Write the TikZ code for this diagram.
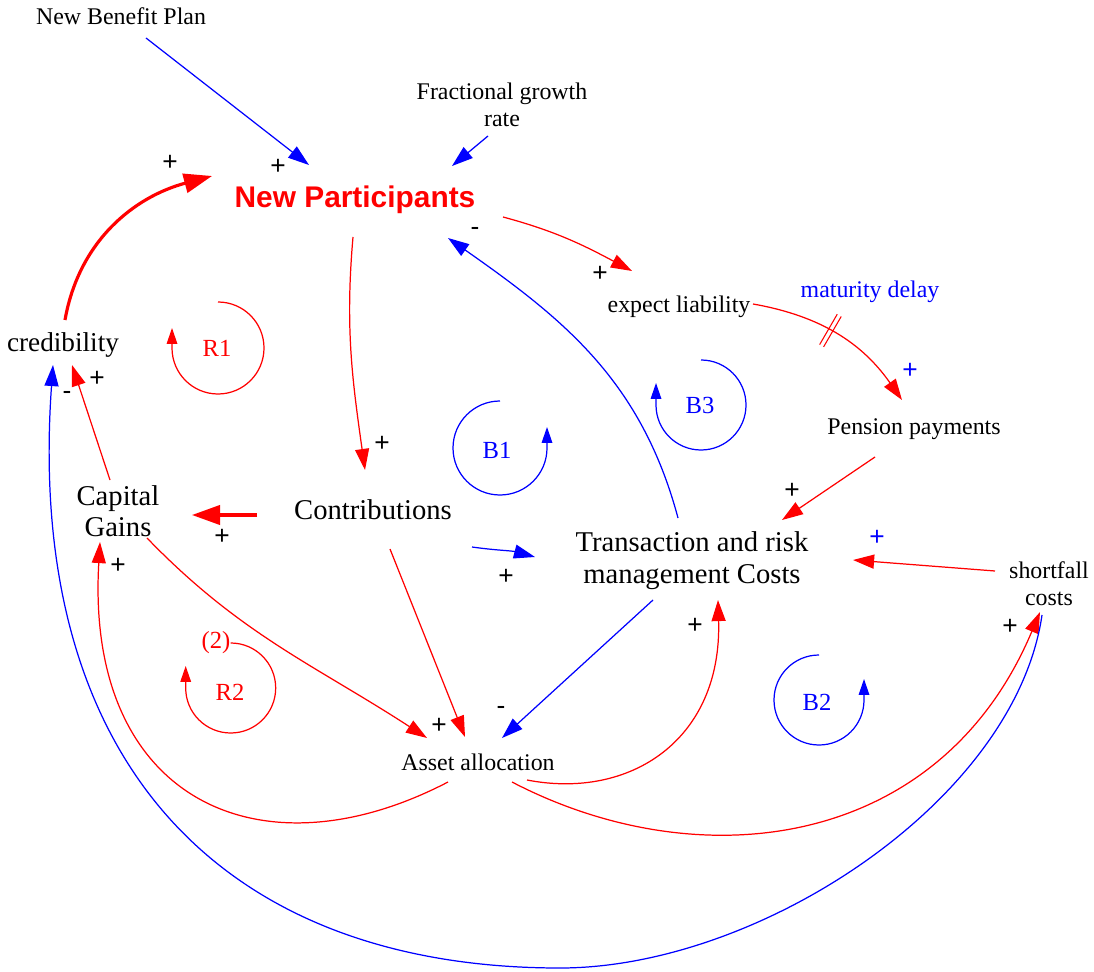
\documentclass[tikz,border=0pt]{standalone}
\usepackage{fontspec}
\setmainfont{Liberation Serif}
\newfontfamily\arialfont{Liberation Sans}
\usetikzlibrary{arrows.meta,calc,decorations.markings}

\begin{document}
\begin{tikzpicture}
      [x=0.02cm, y=0.02cm,
      var style/.style={inner sep=0pt, align=center, font=\fontsize{13.6}{15.3}\selectfont},
      big var style/.style={inner sep=0pt, align=center, font=\fontsize{16.3}{17.5}\selectfont},
      key var style/.style={inner sep=0pt, text=red, font=\arialfont\bfseries\fontsize{17}{19}\selectfont},
      sign style/.style={inner sep=0pt, font=\arialfont\fontsize{15}{16}\selectfont},
      loop label/.style={inner sep=0pt, font=\fontsize{14}{15}\selectfont},
      red edge/.style={draw=red, line width=0.7pt, -{Triangle[length=12pt,width=8pt]}},
      blue edge/.style={draw=blue, line width=0.7pt, -{Triangle[length=12pt,width=8pt]}},
      thick edge/.style={line width=1.8pt, -{Triangle[length=16pt,width=11pt]}},
      loop style/.style={line width=0.7pt, -{Triangle[length=9pt,width=6pt]}},
      delay mark/.style={postaction={decorate}, decoration={markings,
          mark=at position 0.45 with {\draw[-, red, line width=0.6pt] (-1.3pt,-10pt) -- (-1.3pt,10pt) (1.3pt,-10pt) -- (1.3pt,10pt);}}},
      ]
      \useasboundingbox (0,0) rectangle (1094,-972);

      % variables
      \node[var style] (nbp) at (121,-16) {New Benefit Plan};
      \node[var style] (fgr) at (502,-105) {Fractional growth\\rate};
      \node[key var style] (np) at (355,-200) {New Participants};
      \node[var style] (el) at (679,-307) {expect liability};
      \node[var style, text=blue] (md) at (870,-292) {maturity delay};
      \node[var style] (pp) at (914,-429) {Pension payments};
      \node[var style, font=\fontsize{15.5}{17}\selectfont] (cred) at (63,-345) {credibility};
      \node[big var style] (cg) at (118,-511) {Capital\\Gains};
      \node[big var style] (contr) at (373,-510) {Contributions};
      \node[big var style, font=\fontsize{16.3}{18.2}\selectfont] (trmc) at (692,-561) {Transaction and risk\\management Costs};
      \node[var style] (sc) at (1049,-584) {shortfall\\costs};
      \node[var style] (aa) at (478,-762) {Asset allocation};

      % links
      \draw[blue edge] ($(nbp)+(25,-22)$) -- ($(np)+(-46,35)$);
      \draw[blue edge] ($(fgr)+(-14,-31)$) -- ($(np)+(97,34)$);
      \draw[red edge, thick edge] ($(cred)+(2,25)$) to[out=80, in=195] ($(np)+(-143,24)$);
      \draw[red edge] ($(np)+(-2,-37)$) to[out=-95, in=98] ($(contr)+(-8,40)$);
      \draw[red edge] ($(np)+(148,-17)$) to[out=-15, in=152] ($(el)+(-47,36)$);
      \draw[blue edge] ($(trmc)+(-14,43)$) to[out=105, in=-35] ($(np)+(93,-38)$);
      \draw[red edge, delay mark] ($(el)+(74,3)$) to[out=-10, in=125] ($(pp)+(-12,29)$);
      \draw[red edge] ($(pp)+(-39,-28)$) -- ($(trmc)+(90,41)$);
      \draw[red edge] ($(sc)+(-54,13)$) -- ($(trmc)+(161,1)$);
      \draw[red edge, thick edge] ($(contr)+(-116,-5)$) -- ($(cg)+(74,-4)$);
      \draw[red edge] ($(cg)+(-8,31)$) -- ($(cred)+(9,-20)$);
      \draw[red edge] ($(cg)+(29,-27)$) to[out=-46, in=147] ($(aa)+(-51,24)$);
      \draw[red edge] ($(contr)+(17,-39)$) -- ($(aa)+(-13,25)$);
      \draw[blue edge] ($(contr)+(99,-37)$) to[out=-8, in=165] ($(trmc)+(-157,4)$);
      \draw[blue edge] ($(trmc)+(-39,-39)$) -- ($(aa)+(24,24)$);
      \draw[red edge] ($(aa)+(-30,-20)$) .. controls (260,-880) and (85,-800) .. ($(cg)+(-18,-31)$);
      \draw[red edge] ($(aa)+(49,-18)$) .. controls (630,-800) and (722,-740) .. ($(trmc)+(26,-39)$);
      \draw[red edge] ($(aa)+(34,-20)$) .. controls (700,-880) and (940,-850) .. ($(sc)+(-9,-28)$);
      \draw[blue edge] ($(sc)+(-7,-31)$) .. controls (1015,-800) and (760,-968) .. (560,-968)
            .. controls (220,-968) and (25,-760) .. ($(cred)+(-10,-20)$);

      % polarities
      \node[sign style] (s1) at (170,-163) {+};
      \node[sign style] (s2) at (278,-167) {+};
      \node[sign style] (s3) at (475,-231) {-};
      \node[sign style] (s4) at (600,-274) {+};
      \node[sign style, text=blue] (s5) at (910,-371) {+};
      \node[sign style] (s6) at (97,-379) {+};
      \node[sign style] (s7) at (67,-395) {-};
      \node[sign style] (s8) at (382,-444) {+};
      \node[sign style] (s9) at (222,-537) {+};
      \node[sign style] (s10) at (792,-491) {+};
      \node[sign style, text=blue] (s11) at (877,-538) {+};
      \node[sign style] (s12) at (506,-577) {+};
      \node[sign style] (s13) at (118,-566) {+};
      \node[sign style] (s14) at (695,-626) {+};
      \node[sign style] (s15) at (1010,-627) {+};
      \node[sign style] (s16) at (439,-726) {+};
      \node[sign style] (s17) at (501,-710) {-};

      % loops
      \node[loop label, text=red] (r1) at (217,-348) {R1};
      \draw[loop style, red] (218,-302) arc[start angle=90, end angle=-180, radius=46] -- ++(0,20);
      \node[loop label, text=blue] (b1) at (497,-450) {B1};
      \draw[loop style, blue] (500,-401) arc[start angle=90, end angle=360, radius=47] -- ++(0,21);
      \node[loop label, text=blue] (b3) at (700,-405) {B3};
      \draw[loop style, blue] (701,-360) arc[start angle=90, end angle=-180, radius=45] -- ++(0,22);
      \node[loop label, text=red] (l2) at (216,-643) {(2)};
      \node[loop label, text=red] (r2) at (230,-692) {R2};
      \draw[loop style, red] (l2.east) arc[start angle=90, end angle=-180, radius=45] -- ++(0,22);
      \node[loop label, text=blue] (b2) at (817,-702) {B2};
      \draw[loop style, blue] (819,-655) arc[start angle=90, end angle=360, radius=45] -- ++(0,21);
\end{tikzpicture}
\end{document}
